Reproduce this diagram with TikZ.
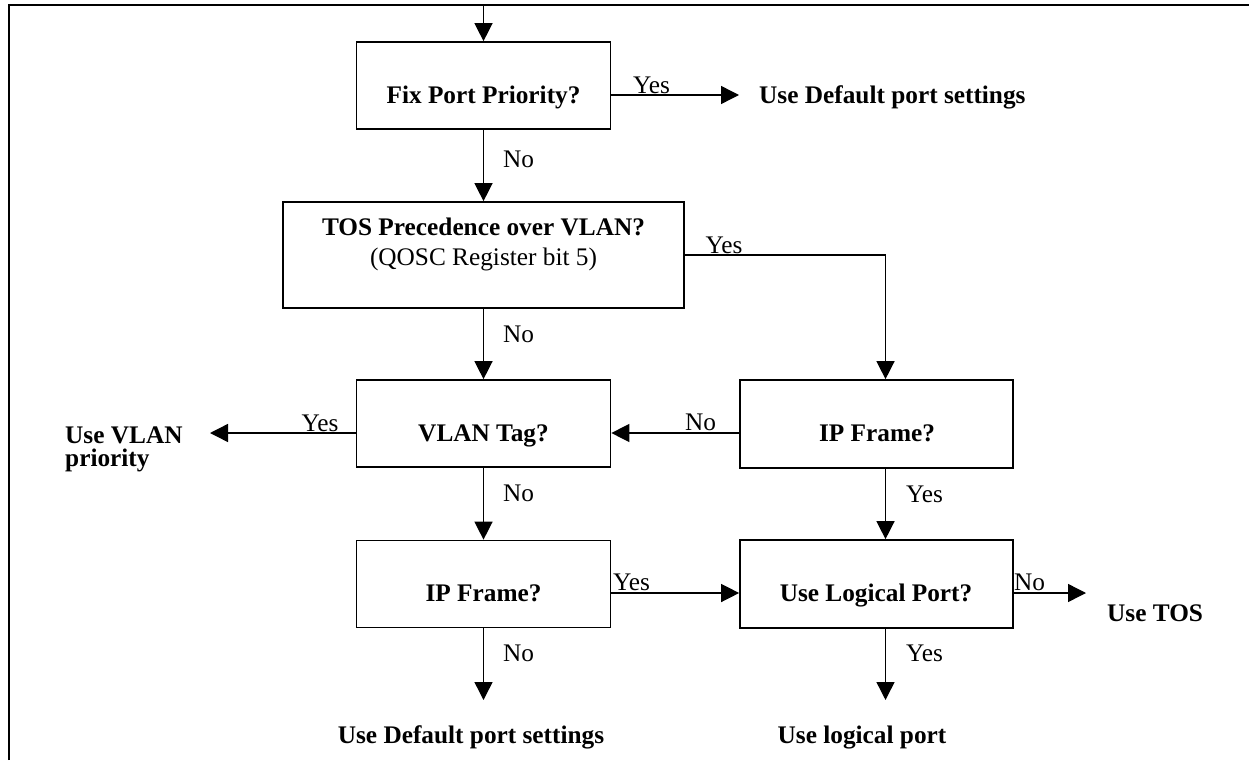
\documentclass[tikz,border=0pt]{standalone}
\usepackage{fontspec}
\setmainfont{Liberation Serif}
\usetikzlibrary{arrows.meta}

\begin{document}
\fontsize{25.3pt}{30pt}\selectfont
\begin{tikzpicture}[
    x=1pt, y=-1pt,
    box/.style={draw, line width=1.7pt, inner sep=0pt},
    leftbox/.style={box, minimum width=254pt, minimum height=87pt},
    rightbox/.style={box, minimum width=273pt, minimum height=88pt},
    arr/.style={-{Triangle[width=18pt,length=18pt]}, line width=1.4pt},
    question/.style={anchor=base, inner sep=0pt, font=\bfseries},
    result/.style={anchor=base west, inner sep=0pt, font=\bfseries},
    answer/.style={anchor=base west, inner sep=0pt}
]
\useasboundingbox (0,0) rectangle (1249,760);

% Frame
\draw[line width=2pt] (9,760) -- (9,5) -- (1249,5);

% Decision boxes
\node[leftbox] (fix) at (483.5,85.5) {};
\node[box, minimum width=401pt, minimum height=106pt] (tos) at (483.5,255) {};
\node[leftbox] (vlan) at (483.5,423.5) {};
\node[rightbox] (ipr) at (876.5,424) {};
\node[leftbox] (ipl) at (483.5,584) {};
\node[rightbox] (logic) at (876.5,584) {};

% Questions
\node[question] (fixq) at (483.5,103.5) {Fix Port Priority?};
\node[question] (tosq) at (483.5,235.5) {TOS Precedence over VLAN?};
\node[anchor=base, inner sep=0pt] (tosr) at (483.5,265.5) {(QOSC Register bit 5)};
\node[question] (vlanq) at (483.5,441.5) {VLAN Tag?};
\node[question] (iprq) at (877,441.5) {IP Frame?};
\node[question] (iplq) at (483.5,601.5) {IP Frame?};
\node[question] (logicq) at (876,601.5) {Use Logical Port?};

% Results
\node[result] (usedef) at (759,103.5) {Use Default port settings};
\node[result] (usevlan) at (65,443) {Use VLAN};
\node[result] (usevlanb) at (65,466) {priority};
\node[result] (usetos) at (1107,621.5) {Use TOS};
\node[question] (usedefb) at (471,743.5) {Use Default port settings};
\node[question] (uselog) at (862,743.5) {Use logical port};

% Free ends
\coordinate (in) at (483.5,5);
\coordinate (defend) at (739,95);
\coordinate (vlanend) at (210,433);
\coordinate (tosend) at (1086,593);
\coordinate (noend) at (483.5,700);
\coordinate (yesend) at (885.5,700);

% Connectors
\draw[arr] (in) -- (fix);
\draw[arr] ([yshift=-9.5pt]fix.east) -- (defend);
\draw[arr] (fix) -- (tos);
\draw[arr] (tos.east) -| ([xshift=9pt]ipr.north);
\draw[arr] (tos) -- (vlan);
\draw[arr] ([yshift=-9.5pt]vlan.west) -- (vlanend);
\draw[arr] ([yshift=-9pt]ipr.west) -- ([yshift=-9.5pt]vlan.east);
\draw[arr] ([xshift=9pt]ipr.south) -- ([xshift=9pt]logic.north);
\draw[arr] (vlan) -- (ipl);
\draw[arr] ([yshift=-9pt]ipl.east) -- ([yshift=-9pt]logic.west);
\draw[arr] ([yshift=-9pt]logic.east) -- (tosend);
\draw[arr] (ipl) -- (noend);
\draw[arr] ([xshift=9pt]logic.south) -- (yesend);

% Yes / No labels
\foreach \t/\x/\y [count=\i] in {Yes/633/93, No/503/167, Yes/705.5/253, No/503/342,
    Yes/301.5/431.5, No/685/430.5, Yes/906/502, No/503/501, Yes/613/590,
    No/1014/590, No/503/661.5, Yes/906/661.5}
    \node[answer] (ans\i) at (\x,\y) {\t};

\end{tikzpicture}
\end{document}
